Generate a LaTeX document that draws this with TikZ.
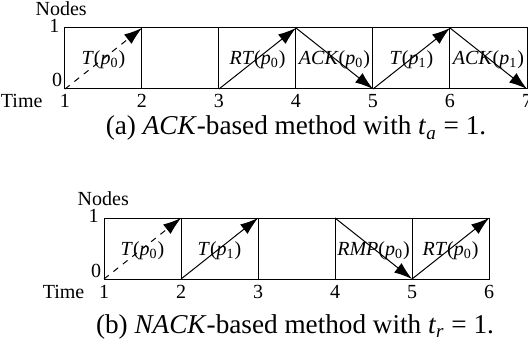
\documentclass[tikz,border=0pt]{standalone}
\usepackage{fontspec}
\setmainfont{Liberation Serif}
\usetikzlibrary{arrows.meta}
\tikzset{
  msg/.style={-{Latex[length=9pt,width=6pt]}},
  cell/.style={anchor=base,inner sep=0pt},
  tick/.style={anchor=base,inner sep=0pt},
  caption/.style={anchor=base,inner sep=0pt,font=\fontsize{13.6}{15}\selectfont},
}
\newcommand{\pkt}[2]{\textit{#1}(\textit{p}\textsubscript{#2})}

\begin{document}
\begin{tikzpicture}[x=38.5pt,y=30.5pt,line width=0.5pt]
    \useasboundingbox (0,0) rectangle (6.857,5.623);
    %% (a) ACK-based method
    \begin{scope}[shift={(-0.156,4.164)}]
        \foreach \t in {1,...,7} {
            \coordinate (ab\t) at (\t,0);
            \coordinate (at\t) at (\t,1);
            \node[tick] (an\t) at (\t,-0.3) {\t};
        }
        \draw (ab1) rectangle (at7);
        \foreach \t in {2,...,6} \draw (ab\t) -- (at\t);
        %% axis labels
        \node[tick] (anodes) at (0.95,1.21) {Nodes};
        \node[anchor=base east,inner sep=0pt] (aone) at (0.935,0.934) {1};
        \node[anchor=base east,inner sep=0pt] (azero) at (0.97,0.033) {0};
        \node[anchor=base east,inner sep=0pt] (atime) at (0.714,-0.3) {Time};
        %% messages
        \draw[msg,dashed] (ab1) -- (at2);
        \draw[msg] (ab3) -- (at4);
        \draw[msg] (at4) -- (ab5);
        \draw[msg] (ab5) -- (at6);
        \draw[msg] (at6) -- (ab7);
        \node[cell] (aT0) at (1.5,0.4) {\pkt{T}{0}};
        \node[cell] (aRT0) at (3.5,0.4) {\pkt{RT}{0}};
        \node[cell] (aACK0) at (4.5,0.4) {\pkt{ACK}{0}};
        \node[cell] (aT1) at (5.5,0.4) {\pkt{T}{1}};
        \node[cell] (aACK1) at (6.5,0.4) {\pkt{ACK}{1}};
    \end{scope}
    \node[caption] (capa) at (3.844,3.41) {(a) \textit{ACK}-based method with \textit{t}\textsubscript{\textit{a}} = 1.};
    %% (b) NACK-based method
    \begin{scope}[shift={(0.351,1.049)}]
        \foreach \t in {1,...,6} {
            \coordinate (bb\t) at (\t,0);
            \coordinate (bt\t) at (\t,1);
            \node[tick] (bn\t) at (\t,-0.32) {\t};
        }
        \draw (bb1) rectangle (bt6);
        \foreach \t in {2,...,5} \draw (bb\t) -- (bt\t);
        %% axis labels
        \node[tick] (bnodes) at (0.99,1.21) {Nodes};
        \node[anchor=base east,inner sep=0pt] (bone) at (0.935,0.934) {1};
        \node[anchor=base east,inner sep=0pt] (bzero) at (0.97,0.02) {0};
        \node[anchor=base east,inner sep=0pt] (btime) at (0.75,-0.32) {Time};
        %% messages
        \draw[msg,dashed] (bb1) -- (bt2);
        \draw[msg] (bb2) -- (bt3);
        \draw[msg] (bt4) -- (bb5);
        \draw[msg] (bb5) -- (bt6);
        \node[cell] (bT0) at (1.5,0.39) {\pkt{T}{0}};
        \node[cell] (bT1) at (2.5,0.39) {\pkt{T}{1}};
        \node[cell] (bRMP0) at (4.5,0.39) {\pkt{RMP}{0}};
        \node[cell] (bRT0) at (5.5,0.39) {\pkt{RT}{0}};
    \end{scope}
    \node[caption] (capb) at (3.831,0.164) {(b) \textit{NACK}-based method with \textit{t}\textsubscript{\textit{r}} = 1.};
\end{tikzpicture}
\end{document}
